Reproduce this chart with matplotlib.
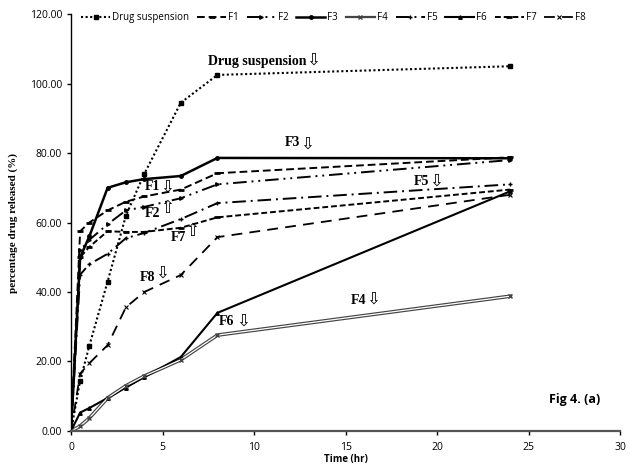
import matplotlib
matplotlib.use("Agg")
import matplotlib.pyplot as plt
import matplotlib.lines as mlines

# sampling times (hr)
time_hr = [0, 0.5, 1, 2, 3, 4, 6, 8, 24]

# % drug released
drug_susp = [0, 14.5, 24.5, 43, 62, 74, 94.5, 102.5, 105]
f1 = [0, 57.5, 60, 63.5, 66, 67.5, 69.5, 74.2, 78.8]
f2 = [0, 52, 55, 59.5, 63.5, 64.5, 67, 71, 78]
f3 = [0, 50, 56, 70, 71.6, 72.5, 73.4, 78.6, 78.5]
f4 = [0, 1.4, 3.7, 9.5, 13, 15.8, 20.5, 27.6, 38.8]
f5 = [0, 45, 48, 51, 55.5, 57, 61, 65.6, 71]
f6 = [0, 5.3, 6.6, 9.5, 12.5, 15.5, 21.3, 34, 69]
f7 = [0, 50, 53, 57.5, 57.3, 57.3, 58.5, 61.5, 69.5]
f8 = [0, 16.5, 19.5, 24.7, 35.6, 40, 44.9, 55.8, 68]

x_ticks = [0, 5, 10, 15, 20, 25, 30]
y_ticks = [0, 20, 40, 60, 80, 100, 120]

sans = ['Open Sans', 'DejaVu Sans']
serif = ['Liberation Serif', 'DejaVu Sans']

fig = plt.figure(figsize=(6.3, 4.71), dpi=100)
ax = fig.add_axes([0.1127, 0.085, 0.8716, 0.885])

ax.plot(time_hr, drug_susp, color='black', ls=(0, (1, 1.2)), lw=1.5,
        marker='s', ms=3, label='Drug suspension')
ax.plot(time_hr, f1, color='black', ls=(0, (4, 2)), lw=1.4,
        marker='_', ms=5, mew=2, label='F1')
ax.plot(time_hr, f2, color='black', ls=(0, (7, 2.5, 1, 2.5, 1, 2.5)), lw=1.4,
        marker='>', ms=2.5, label='F2')
ax.plot(time_hr, f3, color='black', ls='-', lw=1.8,
        marker='o', ms=2.5, label='F3')
# F4 drawn as a hollow double line
ax.plot(time_hr, f4, color='#444444', ls='-', lw=2.6, zorder=2)
ax.plot(time_hr, f4, color='white', ls='-', lw=0.9, zorder=2.1)
ax.plot(time_hr, f4, color='#444444', ls='none',
        marker='x', ms=3.5, mew=1.0, zorder=2.2)
ax.plot(time_hr, f5, color='black', ls=(0, (7, 2.5, 1, 2.5)), lw=1.4,
        marker='+', ms=3.5, label='F5')
ax.plot(time_hr, f6, color='black', ls='-', lw=1.5,
        marker='^', ms=2.5, label='F6')
ax.plot(time_hr, f7, color='black', ls=(0, (3, 1.5)), lw=1.4,
        marker='_', ms=4, mew=2, label='F7')
ax.plot(time_hr, f8, color='black', ls=(0, (6, 4)), lw=1.3,
        marker='x', ms=3.5, mew=0.8, label='F8')

ax.set_xlim(0, 30)
ax.set_ylim(0, 120)
ax.set_xticks(x_ticks)
ax.set_yticks(y_ticks)
ax.set_xticklabels([str(v) for v in x_ticks], family=sans, fontsize=7.5)
ax.set_yticklabels(['%.2f' % v for v in y_ticks], family=sans, fontsize=7.5)
ax.tick_params(length=3, width=1, direction='out')
ax.tick_params(axis='x', pad=5)
for s in ['top', 'right']:
    ax.spines[s].set_visible(False)
ax.spines['left'].set_linewidth(1.0)
ax.spines['bottom'].set_linewidth(1.6)
ax.spines['bottom'].set_color('#555555')

ax.set_xlabel('Time (hr)', family=sans, fontsize=7, fontweight='bold', labelpad=1)
ax.set_ylabel('percentage drug released (%)', family=serif, fontsize=8,
              fontweight='bold', labelpad=8)

# legend along the top
lines = ax.get_lines()
handles = [lines[0], lines[1], lines[2], lines[3]]
labels = ['Drug suspension', 'F1', 'F2', 'F3']
f4_leg = mlines.Line2D([], [], color='#444444', lw=1.6, marker='x', ms=3)
handles += [f4_leg] + lines[7:]
labels += ['F4', 'F5', 'F6', 'F7', 'F8']
fig.legend(handles, labels, loc='center left', bbox_to_anchor=(0.115, 0.962),
           ncol=9, frameon=False, handlelength=3.0, handletextpad=0.2,
           columnspacing=0.8, prop={'family': sans, 'size': 7})

# curve labels with hollow arrows
lab = dict(family=serif, fontsize=10, fontweight='bold', ha='center', va='center')
arr = dict(family=serif, fontsize=12, ha='center', va='center')
ax.text(10.2, 106.5, 'Drug suspension', **lab)
ax.text(13.2, 106.5, '⇩', **arr)
ax.text(12.1, 83.0, 'F3', **lab)
ax.text(12.9, 82.5, '⇩', **arr)
ax.text(4.45, 70.3, 'F1', **lab)
ax.text(5.25, 70.0, '⇩', **arr)
ax.text(4.45, 62.6, 'F2', **lab)
ax.text(5.25, 64.0, '⇧', **arr)
ax.text(5.85, 55.8, 'F7', **lab)
ax.text(6.6, 57.2, '⇧', **arr)
ax.text(4.2, 44.3, 'F8', **lab)
ax.text(4.95, 45.3, '⇩', **arr)
ax.text(8.5, 31.4, 'F6', **lab)
ax.text(9.4, 31.4, '⇩', **arr)
ax.text(15.7, 37.7, 'F4', **lab)
ax.text(16.5, 37.7, '⇩', **arr)
ax.text(19.15, 71.7, 'F5', **lab)
ax.text(19.95, 71.7, '⇩', **arr)

ax.text(27.5, 9.0, 'Fig 4. (a)', family=sans, fontsize=9, fontweight='bold',
        ha='center', va='center')

fig.savefig('out.png', dpi=100)
